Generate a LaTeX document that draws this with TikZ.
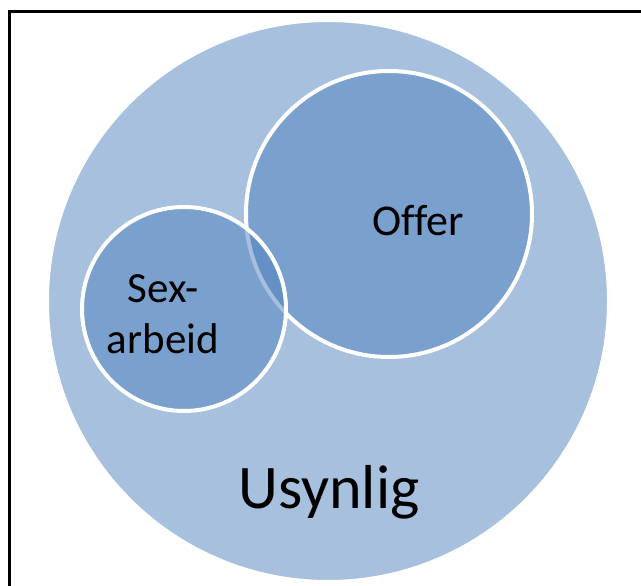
\documentclass[tikz,border=0pt]{standalone}
\usepackage{fontspec}
\setmainfont[Ligatures={NoCommon}]{Carlito}
\definecolor{accent}{HTML}{4F81BD}
\begin{document}
\begin{tikzpicture}[x=1pt,y=-1pt,
  setcircle/.style={circle, inner sep=0pt, outer sep=0pt, fill=accent, fill opacity=0.5, draw=white, draw opacity=1, line width=4pt},
  label/.style={text=black, align=center, inner sep=0pt, anchor=base}]
\useasboundingbox (0,0) rectangle (641,586);
\draw[line width=3pt] (9,586) -- (9,12) -- (641,12);
\node[setcircle, minimum size=562pt] (usynlig) at (328,301) {};
\node[setcircle, minimum size=286pt] (offer) at (389,214) {};
\node[setcircle, minimum size=204pt] (sex) at (184,309) {};
\node[label, font=\fontsize{43}{51}\selectfont] (sextext) at (163,353) {Sex-\\arbeid};
\node[label, font=\fontsize{44}{52}\selectfont] (offertext) at (418,236) {Offer};
\node[label, font=\fontsize{62}{70}\selectfont] (usynligtext) at (329,508) {Usynlig};
\end{tikzpicture}
\end{document}
